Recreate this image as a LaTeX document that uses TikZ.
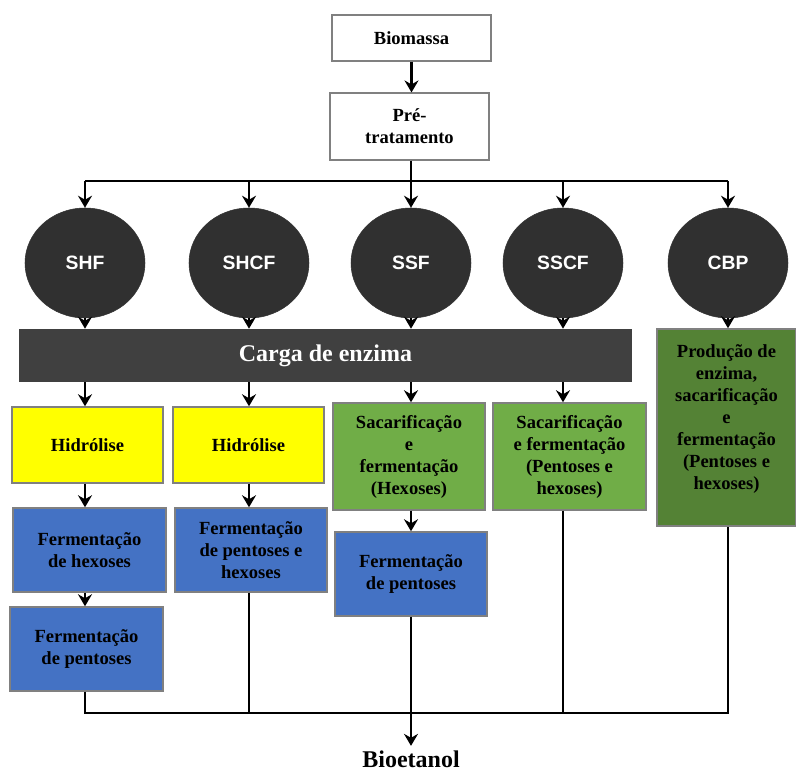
\documentclass[tikz,border=0pt]{standalone}
\usepackage{fontspec}
\setmainfont{Liberation Serif}
\newfontfamily\arialfont{Liberation Sans}
\usetikzlibrary{shapes.geometric,arrows.meta}
\definecolor{barra}{RGB}{64,64,64}
\definecolor{bola}{RGB}{48,48,48}
\definecolor{amarelo}{RGB}{255,255,0}
\definecolor{verdeclaro}{RGB}{112,173,71}
\definecolor{verdeescuro}{RGB}{84,130,53}
\definecolor{azul}{RGB}{68,114,196}
\definecolor{borda}{RGB}{128,128,128}

\begin{document}
\begin{tikzpicture}[x=0.75pt,y=-0.75pt,
  caixa/.style={draw=borda, line width=1.1pt, align=center, inner sep=2pt,
    font=\fontsize{13.9}{16.5}\selectfont\bfseries},
  bola/.style={ellipse, fill=bola, draw=bola, minimum width=90pt, minimum height=82.5pt,
    text=white, font=\arialfont\fontsize{14.5}{16}\selectfont\bfseries},
  seta/.style={line width=1.9pt, -{Stealth[length=9pt,width=10.5pt,inset=3pt]}},
  linha/.style={line width=1.9pt}]
\useasboundingbox (0,0) rectangle (796,773);
\node [caixa, fill=white, minimum width=119pt, minimum height=34.5pt] (bio) at (411.5,38) {Biomassa};
\node [caixa, fill=white, minimum width=119pt, minimum height=50pt] (pre) at (409.5,126.5) {Pr\'e-\\tratamento};
\node [bola] (shf) at (85,263) {SHF};
\node [bola] (shcf) at (249,263) {SHCF};
\node [bola] (ssf) at (411,263) {SSF};
\node [bola] (sscf) at (563,263) {SSCF};
\node [bola] (cbp) at (728,263) {CBP};
\node [fill=barra, minimum width=459.75pt, minimum height=39.75pt, text=white,
  font=\fontsize{18}{20}\selectfont\bfseries] (carga) at (325.5,355.5) {Carga de enzima};
\node [caixa, fill=verdeescuro, minimum width=104.25pt, minimum height=147.75pt] (cbpbox) at (726.5,427.5)
  {Produ\c{c}\~ao de\\enzima,\\sacarifica\c{c}\~ao\\e\\fermenta\c{c}\~ao\\(Pentoses e\\hexoses)\\[-1pt]};
\node [caixa, fill=amarelo, minimum width=113.25pt, minimum height=57pt] (hid1) at (87.5,445) {Hidr\'olise};
\node [caixa, fill=amarelo, minimum width=113.25pt, minimum height=57pt] (hid2) at (248.5,445) {Hidr\'olise};
\node [caixa, fill=verdeclaro, minimum width=114pt, minimum height=80.25pt] (sacssf) at (409,456.5)
  {Sacarifica\c{c}\~ao\\e\\fermenta\c{c}\~ao\\(Hexoses)};
\node [caixa, fill=verdeclaro, minimum width=114.75pt, minimum height=80.25pt] (sacsscf) at (569.5,456.5)
  {Sacarifica\c{c}\~ao\\e fermenta\c{c}\~ao\\(Pentoses e\\hexoses)};
\node [caixa, fill=azul, minimum width=114.75pt, minimum height=63pt] (ferhex) at (89.5,550) {Fermenta\c{c}\~ao\\de hexoses};
\node [caixa, fill=azul, minimum width=114pt, minimum height=63pt] (ferpenhex) at (251,550) {Fermenta\c{c}\~ao\\de pentoses e\\hexoses};
\node [caixa, fill=azul, minimum width=114pt, minimum height=63pt] (ferpen3) at (411,574) {Fermenta\c{c}\~ao\\de pentoses};
\node [caixa, fill=azul, minimum width=114.75pt, minimum height=63pt] (ferpen1) at (86.5,649) {Fermenta\c{c}\~ao\\de pentoses};
\node [font=\fontsize{18}{20}\selectfont\bfseries] (bioetanol) at (411,759) {Bioetanol};
\coordinate (split) at (411,181);
\coordinate (join) at (411,713);
\draw [seta] (bio) -- (bio |- pre.north);
\draw [linha] (pre.south -| split) -- (split);
\draw [linha] (shf |- split) -- (cbp |- split);
\foreach \c in {shf,shcf,ssf,sscf,cbp} {\draw [seta] (\c |- split) -- (\c.north);}
\foreach \c in {shf,shcf,ssf,sscf} {\draw [seta] (\c.south) -- (\c |- carga.north);}
\draw [seta] (cbp.south) -- (cbp |- cbpbox.north);
\draw [seta] (shf |- carga.south) -- (shf |- hid1.north);
\draw [seta] (shcf |- carga.south) -- (shcf |- hid2.north);
\draw [seta] (ssf |- carga.south) -- (ssf |- sacssf.north);
\draw [seta] (sscf |- carga.south) -- (sscf |- sacsscf.north);
\draw [seta] (shf |- hid1.south) -- (shf |- ferhex.north);
\draw [seta] (shcf |- hid2.south) -- (shcf |- ferpenhex.north);
\draw [seta] (ssf |- sacssf.south) -- (ssf |- ferpen3.north);
\draw [seta] (shf |- ferhex.south) -- (shf |- ferpen1.north);
\draw [linha] (shf |- ferpen1.south) -- (shf |- join) -- (cbp |- join) -- (cbp |- cbpbox.south);
\draw [linha] (shcf |- ferpenhex.south) -- (shcf |- join);
\draw [linha] (ssf |- ferpen3.south) -- (ssf |- join);
\draw [linha] (sscf |- sacsscf.south) -- (sscf |- join);
\draw [seta] (join) -- (bioetanol.north);
\end{tikzpicture}
\end{document}
